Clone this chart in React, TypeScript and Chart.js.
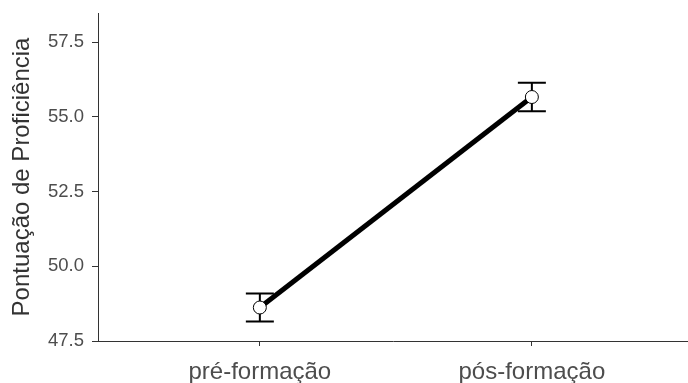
import React, { useEffect, useRef } from 'react';
import { Chart, registerables } from 'chart.js';

Chart.register(...registerables);

const categories = ['pré-formação', 'pós-formação'];
const means = [48.62, 55.66];
const lower = [48.15, 55.18];
const upper = [49.09, 56.14];
const yTicks = [47.5, 50.0, 52.5, 55.0, 57.5];
const yTitle = 'Pontuação de Proficiência';

const FONT = "'Liberation Sans', Arial, Helvetica, sans-serif";

const errorBarPlugin = {
  id: 'errorBars',
  beforeDatasetsDraw(chart: any) {
    const { ctx, scales } = chart;
    const xs = scales.x;
    const ys = scales.y;
    ctx.save();
    ctx.strokeStyle = '#000';
    ctx.lineWidth = 2;
    const half = 14;
    categories.forEach((_, i) => {
      const x = xs.getPixelForValue(i);
      const yl = ys.getPixelForValue(lower[i]);
      const yu = ys.getPixelForValue(upper[i]);
      ctx.beginPath();
      ctx.moveTo(x, yl);
      ctx.lineTo(x, yu);
      ctx.moveTo(x - half, yl);
      ctx.lineTo(x + half, yl);
      ctx.moveTo(x - half, yu);
      ctx.lineTo(x + half, yu);
      ctx.stroke();
    });
    ctx.restore();
  },
};

export default function App() {
  const ref = useRef<HTMLCanvasElement | null>(null);
  useEffect(() => {
    if (!ref.current) return;
    const chart = new Chart(ref.current, {
      type: 'line',
      data: {
        datasets: [
          {
            data: means.map((m, i) => ({ x: i, y: m })),
            borderColor: '#000',
            borderWidth: 5,
            pointRadius: 6.5,
            pointBackgroundColor: '#fff',
            pointBorderColor: '#000',
            pointBorderWidth: 1,
            fill: false,
            tension: 0,
          },
        ],
      },
      options: {
        animation: false,
        responsive: false,
        maintainAspectRatio: false,
        layout: { autoPadding: false, padding: { top: 13, right: 0, left: 0, bottom: 0 } },
        plugins: { legend: { display: false }, tooltip: { enabled: false } },
        scales: {
          x: {
            type: 'linear',
            min: -0.595,
            max: 1.574,
            afterBuildTicks: (scale: any) => {
              scale.ticks = categories.map((_, i) => ({ value: i }));
            },
            afterFit: (scale: any) => {
              scale.height = 42;
              scale.paddingLeft = 0;
              scale.paddingRight = 0;
            },
            ticks: {
              callback: (v: any) => categories[v as number] ?? '',
              font: { family: FONT, size: 24 },
              color: '#4d4d4d',
              padding: 12,
              maxRotation: 0,
              autoSkip: false,
            },
            grid: { display: true, drawOnChartArea: false, tickLength: 5, color: '#333', lineWidth: 1 },
            border: { display: true, color: '#333', width: 1 },
          },
          y: {
            type: 'linear',
            min: 47.5,
            max: 58.47,
            afterBuildTicks: (scale: any) => {
              scale.ticks = yTicks.map((v) => ({ value: v }));
            },
            afterFit: (scale: any) => {
              scale.width = 98;
              scale.paddingTop = 0;
              scale.paddingBottom = 0;
            },
            ticks: {
              callback: (v: any) => Number(v).toFixed(1),
              font: { family: FONT, size: 18.5 },
              color: '#4d4d4d',
              padding: 8,
              autoSkip: false,
            },
            grid: { display: true, drawOnChartArea: false, tickLength: 6, color: '#333', lineWidth: 1 },
            border: { display: true, color: '#333', width: 1 },
            title: {
              display: true,
              text: yTitle,
              font: { family: FONT, size: 24 },
              color: '#333',
              padding: { top: 8, bottom: 0 },
            },
          },
        },
      },
      plugins: [errorBarPlugin],
    });
    return () => chart.destroy();
  }, []);
  return (
    <div style={{ position: 'fixed', left: 0, top: 0, width: 688, height: 383, background: '#fff' }}>
      <canvas ref={ref} width={688} height={383} />
    </div>
  );
}
